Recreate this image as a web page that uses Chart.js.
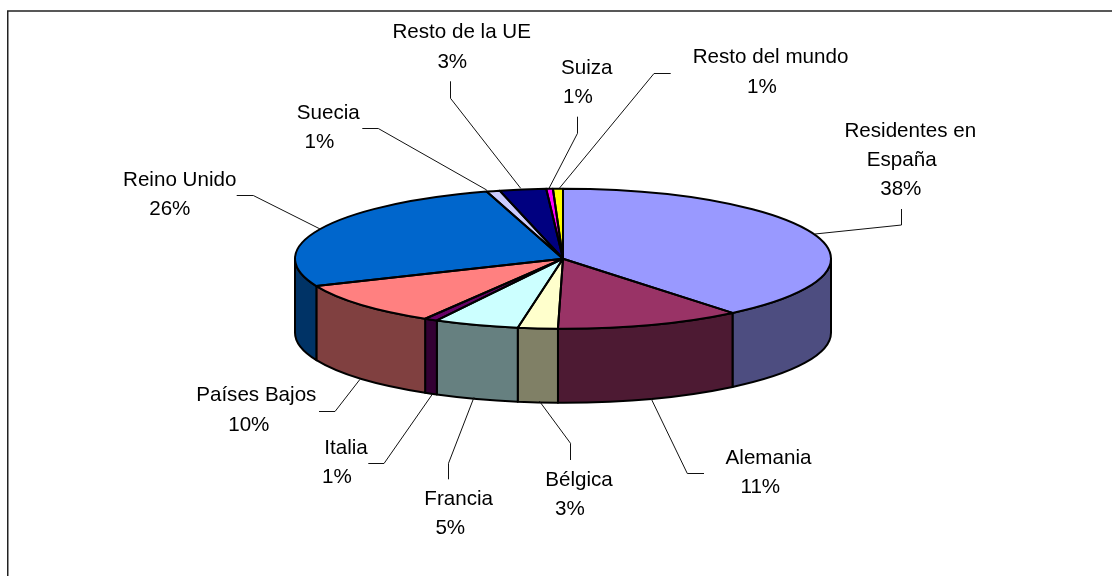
<!DOCTYPE html>
<html lang="es">
<head>
<meta charset="utf-8">
<title>Pie 3D</title>
<script src="https://cdn.jsdelivr.net/npm/chart.js@4"></script>
<style>
html,body{margin:0;padding:0;background:#fff;}
canvas{display:block;}
</style>
</head>
<body>
<canvas id="c" width="1112" height="576"></canvas>
<script>
// Data
const categoryLines = [['Residentes en','España'],['Alemania'],['Bélgica'],['Francia'],['Italia'],['Países Bajos'],['Reino Unido'],['Suecia'],['Resto de la UE'],['Suiza'],['Resto del mundo']];
const categories = categoryLines.map(l => l.join(' '));
const sliceValues = [39.1, 11.2, 2.4, 5.1, 0.8, 10.0, 26.8, 0.8, 2.8, 0.4, 0.6];
const percentLabels = ['38%','11%','3%','5%','1%','10%','26%','1%','3%','1%','1%'];

// Styles
const topColors  = ['#9999FF','#993366','#FFFFCC','#CCFFFF','#660066','#FF8080','#0066CC','#CCCCFF','#000080','#FF00FF','#FFFF00'];
const wallColors = ['#4D4D80','#4D1A33','#808066','#668080','#330033','#804040','#003366','#666680','#000040','#800080','#808000'];

// Layout: text lines as [centre x, baseline y], leader polylines
const labelPositions = [
  [[910.3,136.7],[901.7,165.9],[900.8,195]],
  [[768.5,464],[760.3,493.3]],
  [[579,486],[570,515]],
  [[458.7,505],[450.3,534.3]],
  [[346,454],[337,483.3]],
  [[256.3,401.3],[248.8,431]],
  [[179.7,185.7],[169.8,215.3]],
  [[328.3,118.7],[319.5,148.3]],
  [[461.7,37.7],[452.3,67.7]],
  [[586.7,74],[578,103.3]],
  [[770.5,63.3],[762,93.3]]
];
const leaderPaths = [
  [[815,234],[901.5,225],[901.5,209]],
  [[651,398.3],[687.3,473.5],[704,473.5]],
  [[539.3,401],[570.5,443.3],[570.5,460]],
  [[474,397.3],[448.5,463.3],[448.5,479.3]],
  [[432.3,394.3],[384,463.5],[368.3,463.5]],
  [[360,379.3],[335,411.5],[319,411.5]],
  [[320.7,229.3],[253.3,195.5],[236.7,195.5]],
  [[486.7,190],[378.3,128.5],[362.3,128.5]],
  [[520.7,188.3],[450.5,98.3],[450.5,81.3]],
  [[549,188.3],[577.5,133.3],[577.5,116.7]],
  [[559.3,188.3],[654,73.5],[670.7,73.5]]
];
const PIE = {cx:563, cy:258.7, rx:268, ry:70, depth:74};
const FONT = '20.6px "Liberation Sans", Arial, sans-serif';
const OUTLINE = 2;

const pie3d = {
  id:'pie3d',
  beforeDraw(chart){
    const ctx = chart.ctx;
    ctx.save();
    ctx.strokeStyle = '#222';
    ctx.lineWidth = 1.5;
    ctx.beginPath();
    ctx.moveTo(7.75,576);
    ctx.lineTo(7.75,11);
    ctx.lineTo(1112,11);
    ctx.stroke();
    ctx.restore();
  },
  beforeDatasetsDraw(chart){
    const ctx = chart.ctx, arcs = chart.getDatasetMeta(0).data;
    const {cx,cy,rx,ry,depth} = PIE;
    ctx.save();
    ctx.lineWidth = OUTLINE;
    ctx.lineJoin = 'round';
    ctx.strokeStyle = '#000';
    arcs.forEach((a,i)=>{
      const lo = Math.max(a.startAngle,0), hi = Math.min(a.endAngle,Math.PI);
      if (hi <= lo) return;
      ctx.beginPath();
      ctx.ellipse(cx,cy,rx,ry,0,lo,hi);
      ctx.ellipse(cx,cy+depth,rx,ry,0,hi,lo,true);
      ctx.closePath();
      ctx.fillStyle = wallColors[i];
      ctx.fill();
      ctx.stroke();
    });
    ctx.restore();
    const a0 = arcs[0];
    ctx.save();
    ctx.translate(cx,cy);
    ctx.scale(rx/a0.outerRadius, ry/a0.outerRadius);
    ctx.translate(-a0.x,-a0.y);
  },
  afterDatasetsDraw(chart){
    const ctx = chart.ctx, arcs = chart.getDatasetMeta(0).data;
    const {cx,cy,rx,ry} = PIE;
    ctx.restore();
    ctx.save();
    ctx.lineWidth = OUTLINE;
    ctx.lineJoin = 'round';
    ctx.strokeStyle = '#000';
    arcs.forEach(a=>{
      ctx.beginPath();
      ctx.moveTo(cx,cy);
      ctx.ellipse(cx,cy,rx,ry,0,a.startAngle,a.endAngle);
      ctx.closePath();
      ctx.stroke();
    });
    ctx.lineWidth = 1;
    ctx.lineJoin = 'miter';
    ctx.strokeStyle = '#111';
    leaderPaths.forEach(p=>{
      ctx.beginPath();
      p.forEach((pt,j)=> j ? ctx.lineTo(pt[0],pt[1]) : ctx.moveTo(pt[0],pt[1]));
      ctx.stroke();
    });
    ctx.fillStyle = '#000';
    ctx.font = FONT;
    ctx.textAlign = 'center';
    ctx.textBaseline = 'alphabetic';
    categoryLines.forEach((lines,i)=>{
      const texts = lines.concat(percentLabels[i]);
      texts.forEach((t,j)=>{
        const pos = labelPositions[i][j];
        ctx.fillText(t,pos[0],pos[1]);
      });
    });
    ctx.restore();
  }
};

new Chart(document.getElementById('c'),{
  type:'pie',
  data:{
    labels:categories,
    datasets:[{data:sliceValues, backgroundColor:topColors, borderWidth:0, radius:268, clip:false}]
  },
  options:{
    responsive:false,
    animation:false,
    layout:{padding:0},
    plugins:{legend:{display:false},tooltip:{enabled:false},title:{display:false}}
  },
  plugins:[pie3d]
});
</script>
</body>
</html>
